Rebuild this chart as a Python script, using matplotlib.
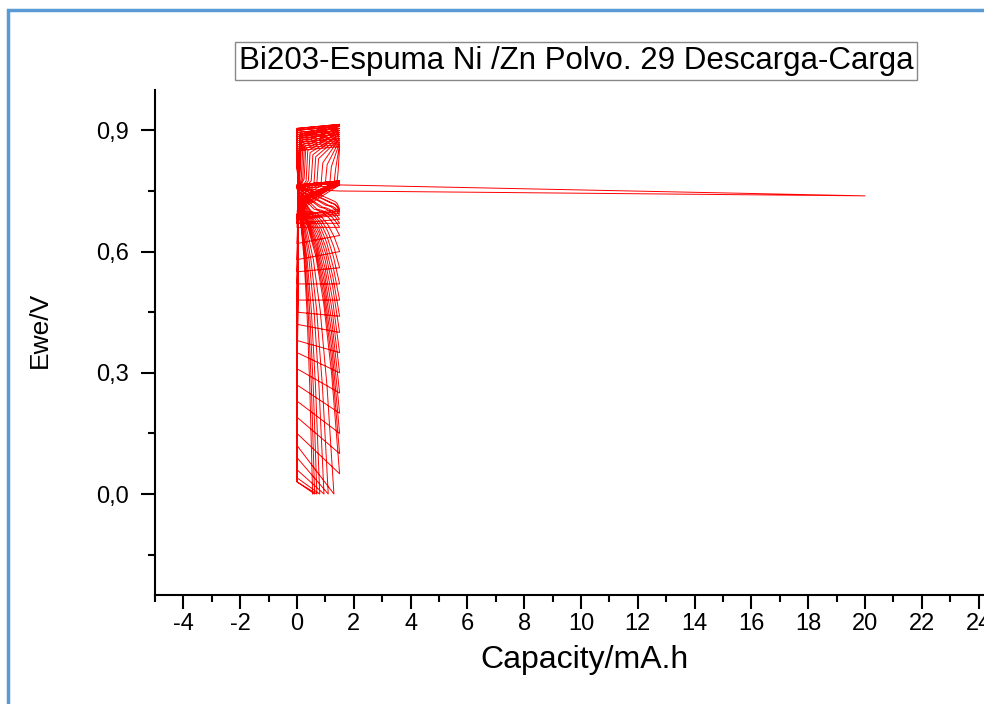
import matplotlib
matplotlib.use("Agg")
import matplotlib.pyplot as plt
from matplotlib.patches import Rectangle
from matplotlib.ticker import MultipleLocator, FuncFormatter

plt.rcParams['font.family'] = ['Liberation Sans', 'DejaVu Sans']

# ---- per-cycle values (29 cycles) ----
cycles = list(range(1, 30))
charge_start_v = [0.70, 0.69, 0.69, 0.68, 0.68, 0.68, 0.67, 0.67, 0.66,
                  0.62, 0.58, 0.55, 0.52, 0.48, 0.45, 0.42, 0.38, 0.35, 0.31,
                  0.27, 0.23, 0.19, 0.15, 0.12, 0.09, 0.06, 0.04, 0.03, 0.03]
charge_low_v = [0.70, 0.705, 0.71, 0.715, 0.72, 0.72, 0.725, 0.725, 0.73,
                0.72, 0.725, 0.73, 0.73, 0.735, 0.735, 0.74, 0.74, 0.745, 0.745,
                0.75, 0.75, 0.75, 0.755, 0.755, 0.76, 0.76, 0.76, 0.76, 0.76]
charge_plateau_v = [0.765, 0.77, 0.77, 0.772, 0.765, 0.772, 0.775, 0.775, 0.775,
                    0.765, 0.765, 0.765, 0.77, 0.77, 0.77, 0.77, 0.775, 0.775, 0.775,
                    0.78, 0.78, 0.78, 0.78, 0.78, 0.78, 0.78, 0.78, 0.78, 0.78]
charge_jump_cap = [1.5, 1.5, 1.5, 1.5, 1.5, 1.5, 1.5, 1.5, 1.5,
                   1.4, 1.3, 1.15, 1.0, 0.85, 0.7, 0.6, 0.5, 0.4, 0.32,
                   0.25, 0.2, 0.15, 0.1, 0.08, 0.06, 0.05, 0.04, 0.04, 0.04]
charge_high_v = [0.85, 0.85, 0.85, 0.85, 0.85, 0.85, 0.85, 0.85, 0.85,
                 0.80, 0.805, 0.81, 0.815, 0.82, 0.83, 0.835, 0.84, 0.845, 0.85,
                 0.855, 0.86, 0.865, 0.87, 0.875, 0.88, 0.885, 0.885, 0.89, 0.89]
charge_end_v = [0.765, 0.77, 0.77, 0.772, 0.765, 0.772, 0.775, 0.775, 0.775,
                0.86, 0.865, 0.87, 0.875, 0.88, 0.88, 0.885, 0.89, 0.89, 0.895,
                0.895, 0.90, 0.90, 0.905, 0.905, 0.91, 0.91, 0.912, 0.915, 0.915]
discharge_start_v = [0.765, 0.76, 0.76, 0.755, 0.755, 0.75, 0.75, 0.75, 0.745,
                     0.745, 0.745, 0.74, 0.74, 0.74, 0.74, 0.735, 0.735, 0.735, 0.735,
                     0.73, 0.73, 0.73, 0.73, 0.73, 0.73, 0.73, 0.73, 0.73, 0.73]
discharge_knee_cap = [1.3, 1.25, 1.2, 1.1, 1.0, 0.9, 0.8, 0.7, 0.6,
                      0.5, 0.45, 0.4, 0.35, 0.3, 0.27, 0.24, 0.21, 0.18, 0.16,
                      0.14, 0.12, 0.1, 0.09, 0.08, 0.07, 0.06, 0.06, 0.05, 0.05]
discharge_plateau_v = [0.725, 0.72, 0.72, 0.715, 0.715, 0.71, 0.71, 0.705, 0.705,
                       0.70, 0.70, 0.70, 0.70, 0.70, 0.70, 0.70, 0.70, 0.70, 0.70,
                       0.70, 0.70, 0.70, 0.70, 0.70, 0.70, 0.70, 0.70, 0.70, 0.70]
discharge_end_cap = [1.5, 1.5, 1.5, 1.5, 1.5, 1.5, 1.5, 1.5, 1.5,
                     1.5, 1.5, 1.5, 1.5, 1.5, 1.5, 1.5, 1.5, 1.5, 1.5,
                     1.5, 1.5, 1.5, 1.3, 1.1, 0.95, 0.8, 0.7, 0.62, 0.55]
discharge_end_v = [0.705, 0.70, 0.70, 0.695, 0.69, 0.68, 0.67, 0.66, 0.64,
                   0.60, 0.56, 0.52, 0.48, 0.44, 0.40, 0.35, 0.30, 0.25, 0.20,
                   0.15, 0.10, 0.05, 0.0, 0.0, 0.0, 0.0, 0.0, 0.0, 0.0]
# normalised discharge fall-off shape (fraction of capacity, fraction of drop)
shape_cap_frac = [0.0, 0.2, 0.4, 0.6, 0.8, 1.0]
shape_drop_frac = [0.0, 0.06, 0.17, 0.35, 0.62, 1.0]
# one stray charge step running out to 20 mA.h
glitch_cycle = 5
glitch_cap = [1.5, 20.0, 1.5]
glitch_v = [0.765, 0.738, 0.75]

# ---- build the continuous trace ----
xs, ys = [], []
for i in range(len(cycles)):
    # charge
    s, jq = charge_start_v[i], charge_jump_cap[i]
    xs += [0.0, 0.04]
    ys += [s, charge_low_v[i]]
    if jq >= 1.5:
        xs += [1.5]
        ys += [charge_end_v[i]]
    else:
        xs += [jq, min(jq + 0.06, 1.45), 1.5]
        ys += [charge_plateau_v[i], charge_high_v[i], charge_end_v[i]]
    if cycles[i] == glitch_cycle:
        xs += glitch_cap
        ys += glitch_v
    # discharge
    ve = charge_end_v[i]
    kq = discharge_knee_cap[i]
    xs += [0.0, 0.03, kq]
    ys += [ve - 0.01, discharge_start_v[i], discharge_plateau_v[i]]
    qe, vend = discharge_end_cap[i], discharge_end_v[i]
    v0 = discharge_plateau_v[i]
    for cf, df in zip(shape_cap_frac[1:], shape_drop_frac[1:]):
        xs.append(kq + cf * (qe - kq))
        ys.append(v0 - df * (v0 - vend))

fig = plt.figure(figsize=(9.84, 7.04), dpi=100)
fig.patch.set_facecolor('white')
# blue frame of the screenshot
fig.add_artist(Rectangle((8 / 984, -0.1), 1.2, 1 - 10 / 704 + 0.1, transform=fig.transFigure,
                         fill=False, edgecolor='#5B9BD5', linewidth=2.5))

ax = fig.add_axes([155 / 984, 1 - 595 / 704, (1007 - 155) / 984, (595 - 90) / 704])
ax.plot(xs, ys, color='#FF0000', linewidth=0.7)

ax.set_xlim(-5, 25)
ax.set_ylim(-0.25, 1.0)
ax.xaxis.set_major_locator(MultipleLocator(2))
ax.xaxis.set_minor_locator(MultipleLocator(1))
ax.set_yticks([0.0, 0.3, 0.6, 0.9])
ax.yaxis.set_minor_locator(MultipleLocator(0.15))
ax.yaxis.set_major_formatter(FuncFormatter(lambda v, p: f"{abs(v):.1f}".replace('.', ',') if abs(v) < 1e-9 else f"{v:.1f}".replace('.', ',')))
ax.xaxis.set_major_formatter(FuncFormatter(lambda v, p: f"{v:.0f}"))

for sp in ['top', 'right']:
    ax.spines[sp].set_visible(False)
for sp in ['left', 'bottom']:
    ax.spines[sp].set_linewidth(1.5)
ax.tick_params(which='major', direction='out', length=10, width=1.5, labelsize=17)
ax.tick_params(axis='x', which='major', pad=3)
ax.tick_params(axis='y', which='major', pad=9)
ax.tick_params(which='minor', direction='out', length=5, width=1.5)

fig.text(585 / 984, 1 - 660 / 704, 'Capacity/mA.h', fontsize=23, ha='center', va='center')
fig.text(40 / 984, 1 - 330 / 704, 'Ewe/V', fontsize=19, ha='center', va='center', rotation=90)

fig.text(576 / 984, 1 - 61 / 704, 'Bi203-Espuma Ni /Zn Polvo. 29 Descarga-Carga',
         ha='center', va='center', fontsize=22.5,
         bbox=dict(boxstyle='square,pad=0.12', facecolor='white', edgecolor='#888888', linewidth=1))

fig.savefig('out.png', dpi=100)
